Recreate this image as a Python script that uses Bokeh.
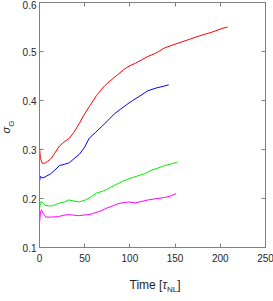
from bokeh.plotting import figure
from bokeh.models import LinearAxis, Range1d, FixedTicker, Div, CustomJSTickFormatter
from bokeh.layouts import row, column
from bokeh.embed import file_html
from bokeh.resources import INLINE

# ---- data ----
red_t = [0, 1, 3, 6, 9, 12, 16, 22, 27, 33, 38, 44, 49, 56, 63, 72, 80, 86, 93, 99,
         106, 113, 120, 128, 138, 150, 163, 177, 190, 202, 208]
red_v = [0.305, 0.282, 0.272, 0.272, 0.276, 0.280, 0.290, 0.307, 0.315, 0.323, 0.335,
         0.353, 0.370, 0.390, 0.410, 0.430, 0.443, 0.452, 0.463, 0.470, 0.476, 0.483,
         0.490, 0.496, 0.507, 0.515, 0.523, 0.532, 0.539, 0.547, 0.550]

blue_t = [0, 1, 3, 5, 8, 12, 17, 22, 28, 33, 38, 44, 50, 55, 62, 69, 76, 83, 90, 96,
          103, 110, 120, 130, 137, 143]
blue_v = [0.235, 0.245, 0.242, 0.243, 0.246, 0.250, 0.258, 0.267, 0.270, 0.273, 0.281,
          0.290, 0.305, 0.323, 0.335, 0.347, 0.360, 0.373, 0.383, 0.391, 0.400, 0.408,
          0.420, 0.426, 0.429, 0.432]

green_t = [0, 1, 2, 4, 7, 10, 14, 18, 23, 28, 32, 38, 44, 51, 57, 63, 70, 76, 84, 93,
           100, 110, 117, 124, 131, 138, 145, 152]
green_v = [0.180, 0.190, 0.194, 0.190, 0.186, 0.185, 0.185, 0.188, 0.191, 0.193, 0.197,
           0.195, 0.193, 0.197, 0.203, 0.211, 0.215, 0.220, 0.228, 0.236, 0.241, 0.247,
           0.251, 0.258, 0.262, 0.267, 0.270, 0.274]

mag_t = [0, 1, 2, 4, 7, 12, 21, 27, 32, 38, 44, 48, 53, 57, 60, 67, 74, 81, 88, 95,
         99, 106, 113, 120, 130, 138, 145, 151]
mag_v = [0.150, 0.170, 0.177, 0.170, 0.162, 0.162, 0.163, 0.166, 0.167, 0.166, 0.165,
         0.166, 0.167, 0.168, 0.170, 0.174, 0.180, 0.185, 0.190, 0.192, 0.193, 0.191,
         0.194, 0.197, 0.200, 0.202, 0.205, 0.210]

x_ticks = [0, 50, 100, 150, 200, 250]
y_ticks = [0.1, 0.2, 0.3, 0.4, 0.5, 0.6]

FONT = "Liberation Sans"
GRAY = "#808080"
TXT = "#262626"

YL_W = 9
P_W = 265 - YL_W
P_H = 267
XL_H = 293 - P_H

p = figure(width=P_W, height=P_H, output_backend="svg", toolbar_location=None,
           x_range=Range1d(0, 250), y_range=Range1d(0.1, 0.6),
           min_border_left=18, min_border_right=10, min_border_top=2,
           min_border_bottom=20)
p.grid.visible = False
p.outline_line_color = GRAY
p.background_fill_color = "white"

for ax in (p.xaxis[0], p.yaxis[0]):
    ax.major_tick_in = 4
    ax.major_tick_out = 0
    ax.minor_tick_line_color = None
    ax.axis_line_color = GRAY
    ax.major_tick_line_color = GRAY
    ax.major_label_text_font = FONT
    ax.major_label_text_font_size = "10px"
    ax.major_label_text_color = TXT
p.xaxis.ticker = FixedTicker(ticks=x_ticks)
p.yaxis.ticker = FixedTicker(ticks=y_ticks)
p.xaxis.major_label_standoff = 6
p.yaxis.major_label_standoff = 3

blank = CustomJSTickFormatter(code="return ''")
top = LinearAxis(ticker=FixedTicker(ticks=x_ticks), major_tick_in=4, major_tick_out=0,
                 minor_tick_line_color=None, axis_line_color=GRAY,
                 major_tick_line_color=GRAY, formatter=blank,
                 major_label_standoff=0)
right = LinearAxis(ticker=FixedTicker(ticks=y_ticks), major_tick_in=4, major_tick_out=0,
                   minor_tick_line_color=None, axis_line_color=GRAY,
                   major_tick_line_color=GRAY, formatter=blank,
                   major_label_standoff=0)
p.add_layout(top, "above")
p.add_layout(right, "right")

p.line(red_t, red_v, line_color="#ff0000", line_width=1)
p.line(blue_t, blue_v, line_color="#0000ff", line_width=1)
p.line(green_t, green_v, line_color="#00f000", line_width=1)
p.line(mag_t, mag_v, line_color="#ff00ff", line_width=1)

ylabel = Div(width=YL_W, height=P_H, text=(
    f'<div style="position:relative;width:{YL_W}px;height:{P_H}px;">'
    '<div style="position:absolute;left:4px;top:122px;'
    'transform:translate(-50%,-50%) rotate(-90deg);white-space:nowrap;'
    f"font-family:'{FONT}';font-size:11px;color:{TXT};line-height:12px;\">"
    '<i>σ</i><sub style="font-size:8px;">G</sub></div></div>'))

xlabel = Div(width=P_W, height=XL_H, text=(
    f"<div style=\"width:{P_W}px;text-align:center;padding-left:6px;padding-top:7px;"
    f"box-sizing:border-box;font-family:'{FONT}';font-size:12px;color:{TXT};"
    "line-height:12px;white-space:nowrap;\">"
    'Time [<i>τ</i><sub style="font-size:8px;line-height:8px;">NL</sub>]</div>'))

layout = row(ylabel, column(p, xlabel))

open("out.html", "w").write(file_html(layout, INLINE))
